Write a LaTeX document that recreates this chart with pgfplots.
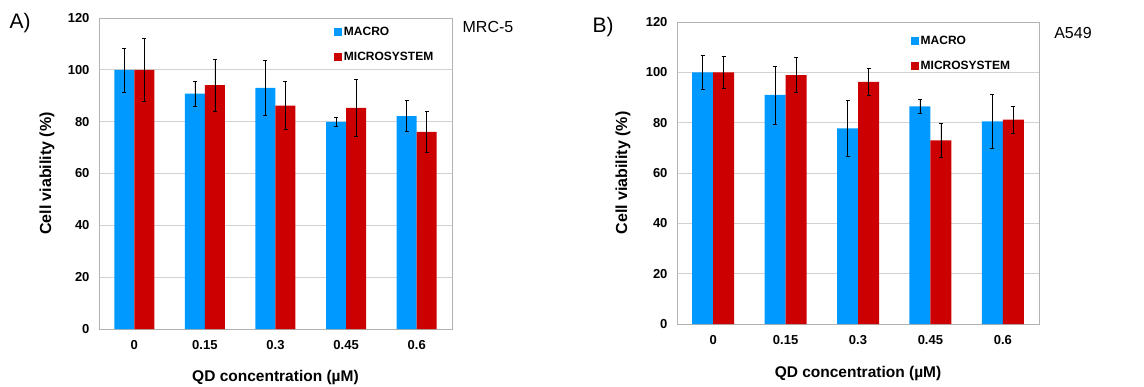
\documentclass[border=0pt]{standalone}
\usepackage{pgfplots}
\pgfplotsset{compat=1.18}
\usepackage{fontspec}
\setmainfont{Liberation Sans}
\definecolor{macro}{RGB}{0,153,255}
\definecolor{micro}{RGB}{204,0,0}
\pgfplotsset{
  cv/.style={
    scale only axis, ybar=0pt,
    xmin=-0.5, xmax=4.5, ymin=0, ymax=120,
    ytick={0,20,...,120}, xtick={0,...,4},
    xticklabels={0,0.15,0.3,0.45,0.6},
    major tick length=0pt,
    axis line style={gray!60, line width=0.8pt},
    ymajorgrids, grid style={gray!35, line width=0.8pt},
    tick label style={font=\bfseries\fontsize{13}{13}\selectfont},
    /pgf/number format/assume math mode=true,
    yticklabel style={xshift=-6pt},
    xticklabel style={yshift=-8pt},
    label style={font=\bfseries\fontsize{15.5}{15.5}\selectfont},
    xlabel={QD concentration (µM)},
    ylabel={Cell viability (\%)},
    legend style={draw=none, fill=none, inner sep=0pt, anchor=north west,
      font=\bfseries\fontsize{12}{12}\selectfont, row sep=11pt},
    legend cell align=left,
    legend image code/.code={\fill[##1] (0pt,-4pt) rectangle (8pt,4pt);},
  },
  eb/.style={error bars/.cd, y dir=both, y explicit,
    error bar style={black, line width=0.6pt},
    error mark options={rotate=90, black, mark size=2pt, line width=0.6pt}},
}
\begin{document}
\begin{tikzpicture}
\path[use as bounding box] (0,0) rectangle (1144pt,386pt);
\begin{axis}[cv, at={(99pt,57pt)}, anchor=south west, width=353pt, height=311pt,
  bar width=20pt,
  xlabel style={at={(axis description cs:0.5,0)}, anchor=center, yshift=-48pt},
  ylabel style={at={(axis description cs:-0.147,0.5)}, anchor=center, font=\bfseries\fontsize{16}{16}\selectfont},
  legend style={at={(axis description cs:0.665,0.978)}}]
\addplot[fill=macro, draw=none, eb] coordinates {
  (0,100) +- (0,8.5)
  (1,90.8) +- (0,4.8)
  (2,93.0) +- (0,10.5)
  (3,79.9) +- (0,1.7)
  (4,82.1) +- (0,6.0)
};
\addplot[fill=micro, draw=none, eb] coordinates {
  (0,100) +- (0,12.0)
  (1,94.1) +- (0,10.0)
  (2,86.2) +- (0,9.2)
  (3,85.3) +- (0,11.1)
  (4,76.1) +- (0,8.0)
};
\legend{MACRO, MICROSYSTEM}
\end{axis}
\begin{axis}[cv, at={(677pt,62pt)}, anchor=south west, width=362pt, height=302pt,
  bar width=21pt,
  xlabel style={at={(axis description cs:0.5,0)}, anchor=center, yshift=-49pt},
  ylabel style={at={(axis description cs:-0.149,0.5)}, anchor=center, font=\bfseries\fontsize{16}{16}\selectfont},
  legend style={at={(axis description cs:0.645,0.96)}}]
\addplot[fill=macro, draw=none, eb] coordinates {
  (0,100) +- (0,6.8)
  (1,91.0) +- (0,11.5)
  (2,77.7) +- (0,11.0)
  (3,86.5) +- (0,2.7)
  (4,80.5) +- (0,10.7)
};
\addplot[fill=micro, draw=none, eb] coordinates {
  (0,100) +- (0,6.5)
  (1,98.9) +- (0,7.0)
  (2,96.2) +- (0,5.4)
  (3,73.0) +- (0,6.9)
  (4,81.2) +- (0,5.3)
};
\legend{MACRO, MICROSYSTEM}
\end{axis}
\node[font=\fontsize{21}{21}\selectfont] at (20pt,363pt) {A)};
\node[font=\fontsize{16}{16}\selectfont] at (488pt,359pt) {MRC-5};
\node[font=\fontsize{21}{21}\selectfont] at (603pt,359pt) {B)};
\node[font=\fontsize{16}{16}\selectfont] at (1073pt,353pt) {A549};
\end{tikzpicture}
\end{document}
